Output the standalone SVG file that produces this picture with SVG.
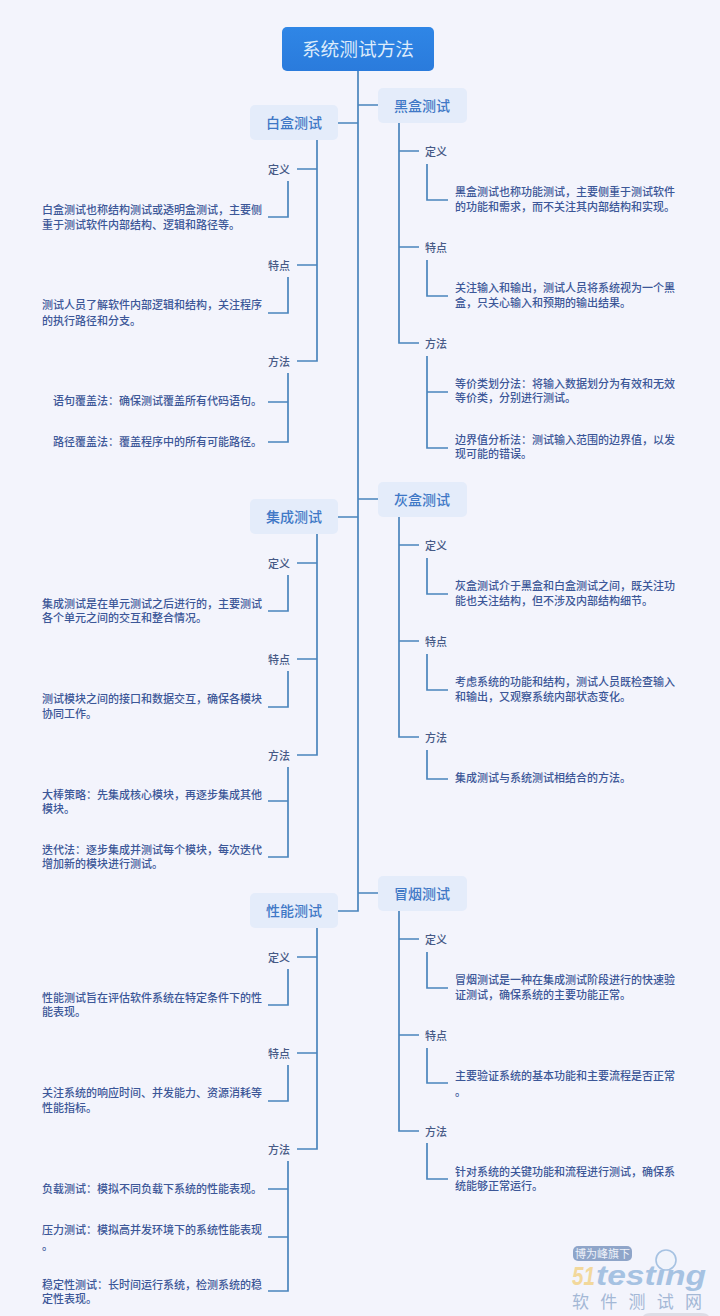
<svg xmlns="http://www.w3.org/2000/svg" width="720" height="1316" viewBox="0 0 720 1316">
<defs>
<linearGradient id="rootfill" x1="0" y1="0" x2="0" y2="1"><stop offset="0" stop-color="#2f86e6"/><stop offset="1" stop-color="#2a7bdc"/></linearGradient>
<filter id="soft" x="-5%" y="-5%" width="110%" height="110%"><feGaussianBlur stdDeviation="0.35"/></filter>
</defs>
<style>
text{font-family:"Noto Sans CJK SC","Noto Sans",sans-serif}
.c{fill:none;stroke:#4a85bd;stroke-width:1.7}
.b{fill:#e4ecfa}
.bt{font-size:14px;fill:#3f78c6;text-anchor:middle;font-weight:500}
.l{font-size:11px;fill:#465a86;text-anchor:middle;font-weight:500;transform:translateY(.6px)}
.t{font-size:11px;fill:#3c5798;font-weight:500}
.r{text-anchor:end}
</style>
<rect width="720" height="1316" fill="#f3f4fc"/>
<g id="connectors" class="conn" filter="url(#soft)">
<path class="c" d="M358 71V911H338M358 123H338M358 105H378M358 499H378M358 517H338M358 893H378"/>
<path class="c" d="M317 140V361H297M317 169H297M317 265H297M288 181V217H268M288 277V313H268M288 373V442H268M288 402H268"/>
<path class="c" d="M317 534V755H297M317 563H297M317 659H297M288 575V611H268M288 671V707H268M288 767V857H268M288 801H268"/>
<path class="c" d="M317 928V1149H297M317 957H297M317 1053H297M288 969V1005H268M288 1065V1101H268M288 1161V1291H268M288 1189H268M288 1237H268"/>
<path class="c" d="M399 123V343H419M399 151H419M399 247H419M427 164V200H448M427 260V296H448M427 356V448H448M427 392H448"/>
<path class="c" d="M399 517V737H419M399 545H419M399 641H419M427 558V594H448M427 654V690H448M427 750V779H448"/>
<path class="c" d="M399 911V1131H419M399 939H419M399 1035H419M427 952V988H448M427 1048V1083H448M427 1143V1179H448"/>
</g>
<g id="root"><rect x="282" y="27" width="152" height="44" rx="5" fill="url(#rootfill)"/><text x="358" y="56" font-size="18.7" fill="#dcebfb" text-anchor="middle">系统测试方法</text></g>

<g id="whitebox"><rect class="b" x="250" y="105" width="88" height="35" rx="5"/><text class="bt" x="294" y="128">白盒测试</text></g>
<g id="wb-def"><text class="l" x="279" y="173">定义</text></g>
<g id="wb-def-text"><text class="t" x="42" y="214">白盒测试也称结构测试或透明盒测试，主要侧</text><text class="t" x="42" y="229">重于测试软件内部结构、逻辑和路径等。</text></g>
<g id="wb-feat"><text class="l" x="279" y="269">特点</text></g>
<g id="wb-feat-text"><text class="t" x="42" y="309">测试人员了解软件内部逻辑和结构，关注程序</text><text class="t" x="42" y="325">的执行路径和分支。</text></g>
<g id="wb-meth"><text class="l" x="279" y="365">方法</text></g>
<g id="wb-m1"><text class="t r" x="262" y="405">语句覆盖法：确保测试覆盖所有代码语句。</text></g>
<g id="wb-m2"><text class="t r" x="262" y="446">路径覆盖法：覆盖程序中的所有可能路径。</text></g>

<g id="integration"><rect class="b" x="250" y="499" width="88" height="35" rx="5"/><text class="bt" x="294" y="522">集成测试</text></g>
<g id="it-def"><text class="l" x="279" y="567">定义</text></g>
<g id="it-def-text"><text class="t" x="42" y="608">集成测试是在单元测试之后进行的，主要测试</text><text class="t" x="42" y="622">各个单元之间的交互和整合情况。</text></g>
<g id="it-feat"><text class="l" x="279" y="663">特点</text></g>
<g id="it-feat-text"><text class="t" x="42" y="703">测试模块之间的接口和数据交互，确保各模块</text><text class="t" x="42" y="718">协同工作。</text></g>
<g id="it-meth"><text class="l" x="279" y="759">方法</text></g>
<g id="it-m1"><text class="t" x="42" y="799">大棒策略：先集成核心模块，再逐步集成其他</text><text class="t" x="42" y="813">模块。</text></g>
<g id="it-m2"><text class="t" x="42" y="854">迭代法：逐步集成并测试每个模块，每次迭代</text><text class="t" x="42" y="868">增加新的模块进行测试。</text></g>

<g id="performance"><rect class="b" x="250" y="893" width="88" height="35" rx="5"/><text class="bt" x="294" y="916">性能测试</text></g>
<g id="pf-def"><text class="l" x="279" y="961">定义</text></g>
<g id="pf-def-text"><text class="t" x="42" y="1002">性能测试旨在评估软件系统在特定条件下的性</text><text class="t" x="42" y="1016">能表现。</text></g>
<g id="pf-feat"><text class="l" x="279" y="1057">特点</text></g>
<g id="pf-feat-text"><text class="t" x="42" y="1097">关注系统的响应时间、并发能力、资源消耗等</text><text class="t" x="42" y="1112">性能指标。</text></g>
<g id="pf-meth"><text class="l" x="279" y="1153">方法</text></g>
<g id="pf-m1"><text class="t" x="42" y="1193">负载测试：模拟不同负载下系统的性能表现。</text></g>
<g id="pf-m2"><text class="t" x="42" y="1234">压力测试：模拟高并发环境下的系统性能表现</text><text class="t" x="42" y="1250">。</text></g>
<g id="pf-m3"><text class="t" x="42" y="1289">稳定性测试：长时间运行系统，检测系统的稳</text><text class="t" x="42" y="1303">定性表现。</text></g>

<g id="blackbox"><rect class="b" x="378" y="88" width="89" height="35" rx="5"/><text class="bt" x="422" y="111">黑盒测试</text></g>
<g id="bb-def"><text class="l" x="436" y="155">定义</text></g>
<g id="bb-def-text"><text class="t" x="455" y="196">黑盒测试也称功能测试，主要侧重于测试软件</text><text class="t" x="455" y="211">的功能和需求，而不关注其内部结构和实现。</text></g>
<g id="bb-feat"><text class="l" x="436" y="251">特点</text></g>
<g id="bb-feat-text"><text class="t" x="455" y="292">关注输入和输出，测试人员将系统视为一个黑</text><text class="t" x="455" y="307">盒，只关心输入和预期的输出结果。</text></g>
<g id="bb-meth"><text class="l" x="436" y="347">方法</text></g>
<g id="bb-m1"><text class="t" x="455" y="388">等价类划分法：将输入数据划分为有效和无效</text><text class="t" x="455" y="402">等价类，分别进行测试。</text></g>
<g id="bb-m2"><text class="t" x="455" y="444">边界值分析法：测试输入范围的边界值，以发</text><text class="t" x="455" y="458">现可能的错误。</text></g>

<g id="greybox"><rect class="b" x="378" y="482" width="89" height="35" rx="5"/><text class="bt" x="422" y="505">灰盒测试</text></g>
<g id="gb-def"><text class="l" x="436" y="549">定义</text></g>
<g id="gb-def-text"><text class="t" x="455" y="590">灰盒测试介于黑盒和白盒测试之间，既关注功</text><text class="t" x="455" y="605">能也关注结构，但不涉及内部结构细节。</text></g>
<g id="gb-feat"><text class="l" x="436" y="645">特点</text></g>
<g id="gb-feat-text"><text class="t" x="455" y="686">考虑系统的功能和结构，测试人员既检查输入</text><text class="t" x="455" y="701">和输出，又观察系统内部状态变化。</text></g>
<g id="gb-meth"><text class="l" x="436" y="741">方法</text></g>
<g id="gb-m1"><text class="t" x="455" y="782">集成测试与系统测试相结合的方法。</text></g>

<g id="smoke"><rect class="b" x="378" y="876" width="89" height="35" rx="5"/><text class="bt" x="422" y="899">冒烟测试</text></g>
<g id="sm-def"><text class="l" x="436" y="943">定义</text></g>
<g id="sm-def-text"><text class="t" x="455" y="984">冒烟测试是一种在集成测试阶段进行的快速验</text><text class="t" x="455" y="999">证测试，确保系统的主要功能正常。</text></g>
<g id="sm-feat"><text class="l" x="436" y="1039">特点</text></g>
<g id="sm-feat-text"><text class="t" x="455" y="1080">主要验证系统的基本功能和主要流程是否正常</text><text class="t" x="455" y="1096">。</text></g>
<g id="sm-meth"><text class="l" x="436" y="1135">方法</text></g>
<g id="sm-m1"><text class="t" x="455" y="1176">针对系统的关键功能和流程进行测试，确保系</text><text class="t" x="455" y="1190">统能够正常运行。</text></g>

<g id="watermark">
<path d="M643 1316q2-3 8-3h50q6 0 8 3z" fill="#dddde6"/>
<rect x="573" y="1246" width="59" height="15" rx="5" fill="#8fa5c9"/>
<text x="602.5" y="1257.5" font-size="11" fill="#eef2fa" text-anchor="middle">博为峰旗下</text>
<text x="572" y="1285" font-size="26" font-weight="700" font-style="italic" fill="#f2d89c" style="font-family:'Liberation Sans'" textLength="23" lengthAdjust="spacingAndGlyphs">51</text>
<text x="596" y="1285" font-size="27" font-weight="700" font-style="italic" fill="#a6c2e2" style="font-family:'Liberation Sans'" textLength="110" lengthAdjust="spacingAndGlyphs">testing</text>
<circle cx="666" cy="1260" r="10" fill="#f1f4fb" stroke="#a6c2e2" stroke-width="1.6"/>
<text x="572" y="1308" font-size="17" fill="#a4b8d6" textLength="130">软件测试网</text>
</g>
</svg>
